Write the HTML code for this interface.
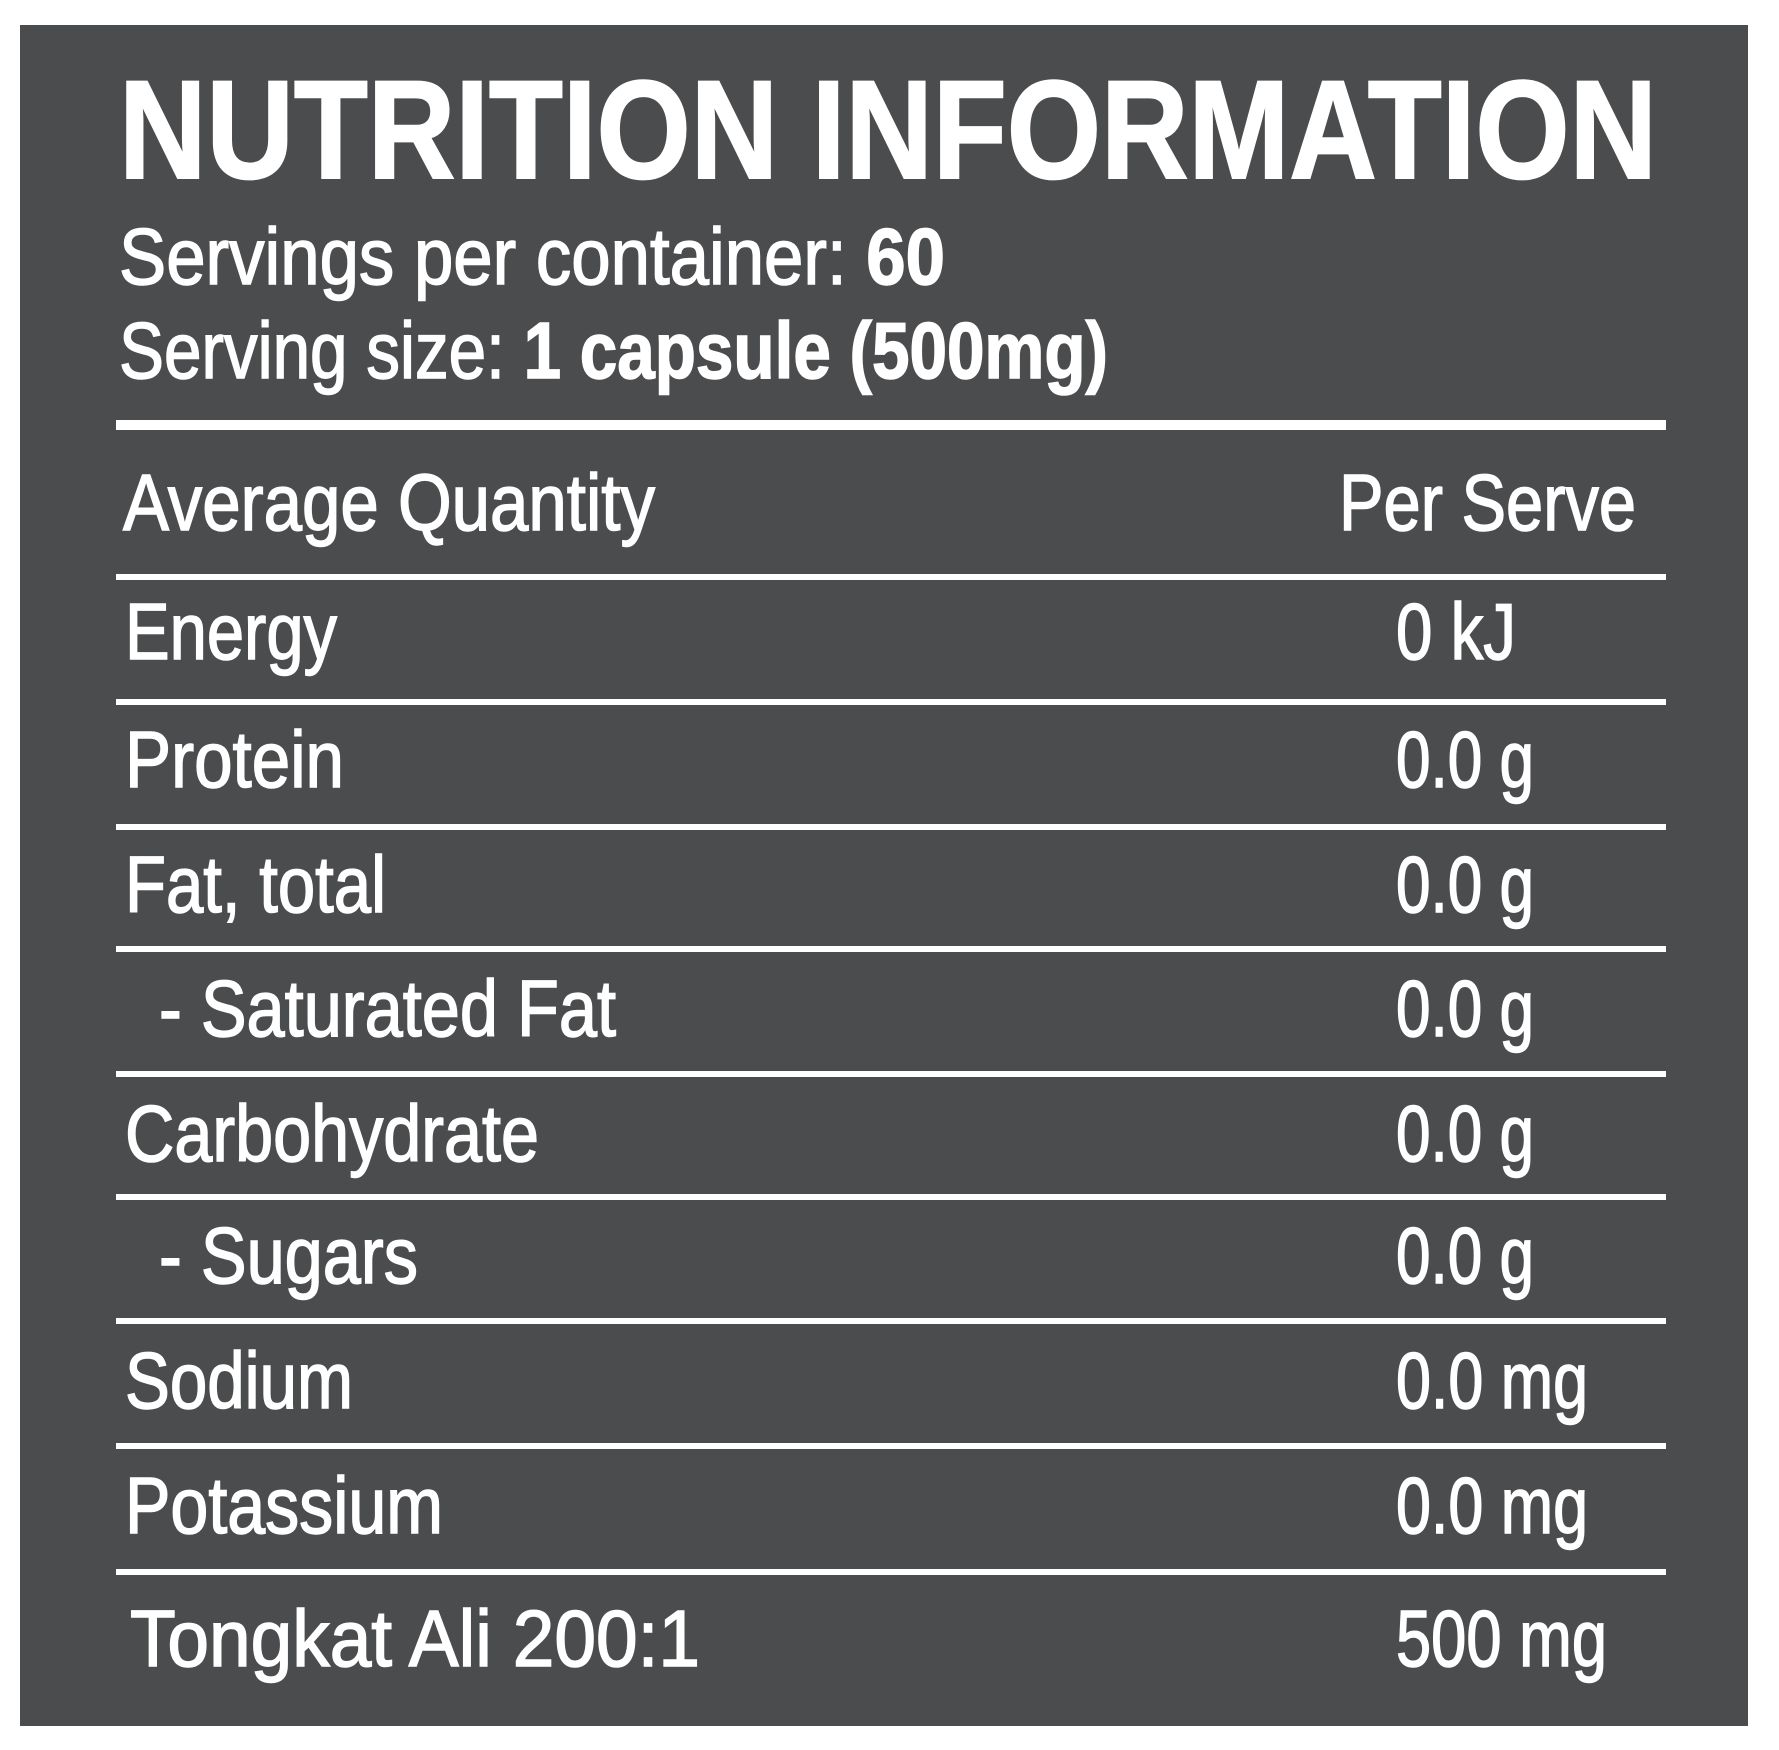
<!DOCTYPE html>
<html><head><meta charset="utf-8"><style>
html,body{margin:0;padding:0;background:#fff;}
svg{display:block;}
text{fill:#fff;stroke:#fff;stroke-width:1.5;font-family:"Liberation Sans Narrow","Liberation Sans",sans-serif;}
</style></head><body>
<svg width="1779" height="1750" viewBox="0 0 1779 1750" xmlns="http://www.w3.org/2000/svg">
<rect x="0" y="0" width="1779" height="1750" fill="#ffffff"/>
<rect x="20" y="25" width="1728" height="1701" fill="#4b4c4e"/>
<text x="119" y="178" font-size="140" font-weight="bold" style="stroke-width:2" textLength="1538" lengthAdjust="spacingAndGlyphs">NUTRITION INFORMATION</text>
<text x="119" y="284" font-size="80" textLength="826" lengthAdjust="spacingAndGlyphs">Servings per container: <tspan font-weight="bold">60</tspan></text>
<text x="119" y="378" font-size="80" textLength="989" lengthAdjust="spacingAndGlyphs">Serving size: <tspan font-weight="bold">1 capsule (500mg)</tspan></text>
<rect x="116" y="420" width="1550" height="10" fill="#fff"/>
<text x="123" y="530" font-size="80" textLength="532" lengthAdjust="spacingAndGlyphs">Average Quantity</text>
<text x="1339" y="530" font-size="80" textLength="297" lengthAdjust="spacingAndGlyphs">Per Serve</text>
<g fill="#fff">
<rect x="116" y="574" width="1550" height="6"/>
<rect x="116" y="699" width="1550" height="6"/>
<rect x="116" y="824" width="1550" height="6"/>
<rect x="116" y="946" width="1550" height="6"/>
<rect x="116" y="1071" width="1550" height="6"/>
<rect x="116" y="1194" width="1550" height="6"/>
<rect x="116" y="1318" width="1550" height="6"/>
<rect x="116" y="1443" width="1550" height="6"/>
<rect x="116" y="1569" width="1550" height="6"/>
</g>
<g font-size="80">
<text x="125" y="659" textLength="212" lengthAdjust="spacingAndGlyphs">Energy</text>
<text x="1396" y="659" textLength="120" lengthAdjust="spacingAndGlyphs">0 kJ</text>
<text x="125" y="787" textLength="219" lengthAdjust="spacingAndGlyphs">Protein</text>
<text x="1396" y="787" textLength="138" lengthAdjust="spacingAndGlyphs">0.0 g</text>
<text x="125" y="912" textLength="261" lengthAdjust="spacingAndGlyphs">Fat, total</text>
<text x="1396" y="912" textLength="138" lengthAdjust="spacingAndGlyphs">0.0 g</text>
<text x="159" y="1036" textLength="457" lengthAdjust="spacingAndGlyphs">- Saturated Fat</text>
<text x="1396" y="1036" textLength="138" lengthAdjust="spacingAndGlyphs">0.0 g</text>
<text x="125" y="1161" textLength="414" lengthAdjust="spacingAndGlyphs">Carbohydrate</text>
<text x="1396" y="1161" textLength="138" lengthAdjust="spacingAndGlyphs">0.0 g</text>
<text x="159" y="1283" textLength="259" lengthAdjust="spacingAndGlyphs">- Sugars</text>
<text x="1396" y="1283" textLength="138" lengthAdjust="spacingAndGlyphs">0.0 g</text>
<text x="125" y="1408" textLength="228" lengthAdjust="spacingAndGlyphs">Sodium</text>
<text x="1396" y="1408" textLength="192" lengthAdjust="spacingAndGlyphs">0.0 mg</text>
<text x="125" y="1533" textLength="318" lengthAdjust="spacingAndGlyphs">Potassium</text>
<text x="1396" y="1533" textLength="192" lengthAdjust="spacingAndGlyphs">0.0 mg</text>
<text x="130" y="1666" textLength="570" lengthAdjust="spacingAndGlyphs" style="font-family:'Liberation Sans',sans-serif">Tongkat Ali 200:1</text>
<text x="1396" y="1666" textLength="211" lengthAdjust="spacingAndGlyphs">500 mg</text>
</g>
</svg>
</body></html>
